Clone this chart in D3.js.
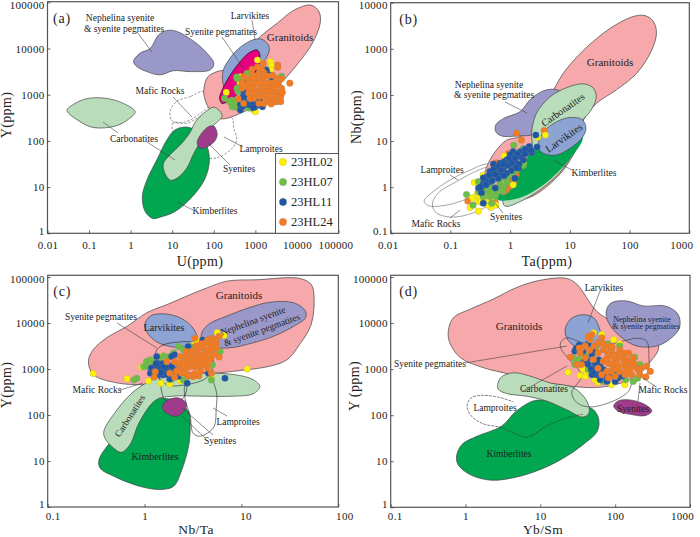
<!DOCTYPE html>
<html>
<head>
<meta charset="utf-8">
<script src="https://cdnjs.cloudflare.com/ajax/libs/d3/7.8.5/d3.min.js"></script>
<style>
  body { margin: 0; background: #fff; }
  text { font-family: "Liberation Serif", "Times New Roman", serif; fill: #222; }
</style>
</head>
<body>
<div id="chart"></div>
<script>
// all values below are log10 of the plotted quantity, [x, y]

// panel a: U vs Y
var aGranitoids = [[1.76,3.10],[1.85,3.38],[2.08,3.50],[2.40,3.57],[2.80,3.97],[3.12,4.26],[3.53,4.55],[3.93,4.83],[4.33,4.94],[4.53,4.80],[4.56,4.55],[4.37,4.11],[4.09,3.75],[3.69,3.32],[3.37,3.03],[3.12,2.81],[2.72,2.63],[2.32,2.49],[2.12,2.49],[1.88,2.71],[1.77,2.96]];
var aNepheline = [[0.07,3.72],[0.23,3.90],[0.47,4.00],[0.67,4.29],[0.87,4.39],[1.11,4.37],[1.48,4.18],[1.76,3.97],[2.00,3.68],[1.92,3.54],[1.44,3.50],[1.03,3.52],[0.71,3.43],[0.39,3.50],[0.15,3.61]];
var aCarbonatitesLeft = [[-1.53,2.66],[-1.34,2.81],[-1.02,2.92],[-0.58,2.92],[-0.17,2.81],[0.11,2.63],[-0.05,2.47],[-0.37,2.32],[-0.90,2.29],[-1.22,2.42]];
var aCarbonatites = [[0.79,1.52],[0.95,1.70],[1.23,1.95],[1.44,2.20],[1.56,2.42],[1.80,2.63],[2.00,2.73],[2.16,2.63],[2.20,2.53],[2.00,2.34],[1.76,2.09],[1.52,1.73],[1.35,1.41],[1.11,1.19],[0.95,1.15],[0.81,1.33]];
var aKimberlites = [[0.28,0.79],[0.39,1.15],[0.63,1.59],[0.87,2.02],[1.07,2.24],[1.35,2.30],[1.60,2.20],[1.84,1.88],[1.89,1.52],[1.77,1.15],[1.48,0.79],[1.07,0.47],[0.71,0.35],[0.53,0.32],[0.35,0.47]];
var aSyenites = [[1.60,1.95],[1.68,2.13],[1.88,2.31],[2.00,2.32],[2.08,2.16],[2.04,2.02],[1.88,1.89],[1.68,1.84]];
var aLarvikites = [[2.22,3.50],[2.36,3.75],[2.60,4.00],[2.92,4.18],[3.16,4.20],[3.33,4.04],[3.30,3.86],[3.04,3.54],[2.72,3.17],[2.40,2.96],[2.24,3.17]];
var aPegmatites = [[2.14,2.92],[2.20,3.10],[2.40,3.43],[2.64,3.72],[2.84,3.90],[3.04,3.97],[3.11,3.86],[3.08,3.64],[2.88,3.32],[2.64,3.07],[2.40,2.89],[2.20,2.81]];
var aMafic = [[1.74,3.07],[1.44,2.96],[1.10,2.85],[0.95,2.63],[0.99,2.44],[1.31,2.41],[1.68,2.60],[2.00,2.89]];
var aLamproites = [[1.01,2.20],[1.01,2.38],[1.35,2.38],[2.00,2.66],[2.44,2.49],[2.48,2.27],[2.55,2.06],[2.48,1.88],[2.16,1.66],[1.88,1.62],[1.35,1.73],[1.03,2.02]];
var aYellow = [[3.05,3.75],[3.37,3.71],[3.39,3.63],[3.37,3.54],[2.30,3.05],[2.63,3.27],[2.80,3.45],[2.96,2.67],[3.00,2.63],[2.91,2.73],[2.64,3.39]];
var aGreen = [[2.56,3.35],[2.68,3.35],[3.63,3.40],[2.26,2.92],[2.44,2.88],[2.44,2.78],[2.52,2.73],[2.64,2.83],[2.58,3.07],[2.84,2.71],[2.92,2.71],[2.80,3.46],[2.48,2.83],[3.17,3.54],[2.56,3.14],[2.45,2.74],[2.50,2.80],[2.58,2.74],[2.66,2.72],[2.55,3.38],[2.38,2.85]];
var aBlue = [[3.27,3.52],[3.33,3.43],[2.64,2.67],[2.80,3.03],[2.72,3.00],[2.92,3.09],[2.88,2.88],[2.76,2.88],[2.64,2.78],[3.00,2.74],[3.17,2.74],[3.25,2.88],[3.37,2.88],[3.09,2.88],[3.41,3.35],[2.72,3.10],[2.84,2.78],[2.96,2.81],[2.70,2.75],[2.78,2.82],[2.90,2.95],[3.02,2.88],[3.10,2.78],[2.95,2.72],[2.68,2.93],[2.80,2.95],[3.17,2.95],[3.00,3.00],[3.25,3.54]];
var aOrange = [[3.19,3.68],[3.54,3.64],[3.54,3.59],[2.92,3.55],[3.09,3.46],[2.92,3.43],[2.72,3.39],[2.84,3.32],[3.00,3.33],[3.17,3.35],[2.68,3.25],[2.84,3.23],[3.00,3.25],[3.13,3.25],[3.29,3.25],[3.41,3.25],[3.51,3.35],[3.63,3.35],[3.83,3.25],[2.68,3.14],[2.84,3.14],[2.96,3.14],[3.13,3.14],[3.25,3.16],[3.37,3.14],[3.51,3.21],[3.63,3.14],[2.84,3.03],[2.96,3.04],[3.09,3.07],[3.25,3.07],[3.37,3.07],[3.49,3.07],[3.57,3.03],[3.21,2.96],[3.09,2.96],[2.96,2.92],[2.87,2.92],[2.59,2.91],[3.37,2.96],[3.49,2.96],[3.61,2.96],[2.72,2.81],[3.09,2.81],[3.21,2.81],[3.33,2.85],[3.51,2.85],[3.61,2.85],[2.75,3.20],[3.06,3.40],[3.20,3.48],[2.95,3.36],[3.45,3.15],[3.30,3.40],[3.42,3.42],[3.15,3.56],[3.05,3.60],[3.65,3.05],[3.45,2.85],[3.38,2.80],[3.25,2.90],[2.90,3.25],[3.55,3.25]];

// panel b: Ta vs Nb
var bGranitoids = [[-0.365,0.52],[-0.225,0.81],[-0.06,1.02],[0.17,1.10],[0.44,1.38],[0.67,1.96],[0.89,2.47],[1.23,2.97],[1.67,3.44],[2.06,3.70],[2.26,3.72],[2.40,3.59],[2.45,3.34],[2.37,2.97],[2.12,2.47],[1.78,2.11],[1.45,1.82],[1.23,1.46],[1.17,1.02],[0.89,0.37],[0.50,-0.10],[0.28,-0.24],[0.00,-0.28],[-0.28,-0.21],[-0.45,0.08]];
var bNepheline = [[-0.24,1.35],[-0.11,1.49],[0.17,1.64],[0.33,1.89],[0.56,2.09],[0.75,2.12],[0.89,2.03],[0.72,1.60],[0.44,1.17],[0.11,1.11],[-0.14,1.11],[-0.24,1.20]];
var bCarbonatites = [[0.36,1.20],[0.44,1.60],[0.67,1.96],[0.95,2.16],[1.23,2.24],[1.40,2.14],[1.44,1.93],[1.34,1.64],[1.17,1.38],[1.11,0.95],[0.89,0.41],[0.61,0.05],[0.22,-0.28],[-0.09,-0.41],[-0.12,-0.21],[0.11,0.30],[0.36,0.81]];
var bKimberlites = [[-0.23,-0.21],[0.00,0.01],[0.19,0.41],[0.39,0.81],[0.67,0.88],[1.00,0.95],[1.21,1.15],[1.21,1.02],[1.03,0.66],[0.81,0.34],[0.56,0.05],[0.28,-0.17],[0.00,-0.28],[-0.20,-0.28]];
var bLarvikites = [[0.47,0.95],[0.56,1.20],[0.78,1.42],[1.00,1.51],[1.20,1.47],[1.27,1.28],[1.20,1.06],[1.00,0.84],[0.78,0.70],[0.58,0.72],[0.49,0.81]];
var bLamproites = [[-1.44,-0.30],[-1.31,-0.12],[-1.00,0.16],[-0.67,0.37],[-0.365,0.50],[-0.17,0.30],[-0.45,-0.06],[-0.78,-0.28],[-1.12,-0.40],[-1.37,-0.40]];
var bMafic = [[-1.30,-0.35],[-1.20,-0.12],[-0.90,0.12],[-0.53,0.37],[-0.28,0.45],[-0.06,0.16],[-0.23,-0.28],[-0.45,-0.46],[-0.78,-0.62],[-1.06,-0.64],[-1.26,-0.53]];
var bOrange = [[0.11,1.17],[0.19,1.02],[0.57,1.23],[-0.71,-0.30],[-0.25,-0.33],[-0.06,-0.06],[-0.11,-0.10],[0.00,0.16],[0.05,0.26],[-0.01,0.01],[-0.23,0.53],[-0.03,0.73],[0.06,0.11],[0.10,0.28],[-0.08,-0.03]];
var bYellow = [[0.59,1.13],[0.46,1.08],[-0.10,0.68],[-0.45,0.26],[-0.60,0.10],[0.05,0.05],[0.22,0.52],[-0.53,-0.52],[-0.67,-0.44],[-0.63,-0.23],[-0.54,-0.30],[-0.32,-0.44],[-0.24,-0.39],[-0.50,-0.21],[-0.42,-0.24],[-0.37,-0.39],[-0.28,-0.21],[-0.39,-0.13],[-0.45,-0.15],[-0.55,-0.15],[-0.50,-0.32],[-0.35,-0.28],[-0.46,-0.05]];
var bGreen = [[0.06,0.91],[0.22,0.84],[0.22,0.47],[-0.53,0.12],[-0.73,-0.16],[-0.03,0.30],[0.05,0.34],[-0.06,0.19],[-0.17,0.08],[-0.11,0.01],[-0.28,-0.06],[-0.23,-0.13],[-0.34,-0.21],[-0.45,-0.21],[-0.62,-0.39],[-0.53,-0.10],[-0.31,-0.35],[0.11,0.37],[-0.38,-0.10],[-0.15,0.20],[-0.05,0.10],[-0.20,-0.02],[-0.30,0.00],[-0.12,-0.08],[0.02,0.26],[-0.25,-0.20],[-0.40,-0.02],[-0.35,0.02],[-0.30,-0.12]];
var bBlue = [[0.43,1.13],[0.45,0.87],[0.32,0.88],[0.28,0.75],[0.17,0.77],[0.05,0.77],[0.00,0.70],[0.17,0.66],[0.05,0.59],[-0.06,0.59],[-0.17,0.52],[-0.28,0.50],[0.00,0.48],[0.11,0.52],[-0.11,0.41],[-0.23,0.37],[-0.06,0.30],[-0.34,0.34],[-0.17,0.26],[-0.31,0.23],[-0.39,0.23],[-0.45,0.08],[-0.34,0.12],[-0.53,-0.02],[-0.48,0.01],[-0.48,-0.12],[-0.25,-0.02],[-0.45,-0.35],[0.08,0.19],[0.14,0.41],[0.36,0.75],[0.22,0.59],[-0.20,0.19],[0.35,0.80],[0.25,0.82],[0.12,0.72],[-0.02,0.62],[-0.10,0.55],[-0.20,0.45],[-0.28,0.38],[-0.35,0.26],[-0.42,0.16],[0.08,0.63],[0.02,0.52],[-0.05,0.47],[-0.15,0.37],[-0.25,0.28],[-0.30,0.14],[-0.40,0.05],[-0.45,0.20],[-0.12,0.50],[0.15,0.50],[0.10,0.42],[0.02,0.36],[-0.10,0.25],[0.25,0.72],[-0.50,0.00]];

// panel c: Nb/Ta vs Y
var cGranitoids = [[-0.58,3.17],[-0.53,3.42],[-0.39,3.68],[-0.18,3.93],[0.02,4.22],[0.23,4.40],[0.43,4.58],[0.64,4.76],[0.85,4.91],[1.16,4.94],[1.60,4.97],[1.72,4.84],[1.75,4.55],[1.72,3.97],[1.60,3.53],[1.47,3.20],[1.29,3.06],[0.92,2.95],[0.64,2.88],[0.37,2.73],[0.02,2.66],[-0.29,2.70],[-0.53,2.88]];
var cNepheline = [[0.59,3.78],[0.66,3.97],[0.85,4.15],[1.09,4.34],[1.29,4.45],[1.54,4.44],[1.66,4.26],[1.66,4.11],[1.54,3.93],[1.33,3.71],[1.12,3.57],[0.88,3.46],[0.68,3.49],[0.59,3.64]];
var cLarvikites = [[0.00,3.93],[0.06,4.15],[0.19,4.20],[0.37,4.11],[0.50,3.89],[0.54,3.64],[0.43,3.49],[0.26,3.49],[0.09,3.64]];
var cCarbonatites = [[-0.42,1.65],[-0.32,2.01],[-0.15,2.44],[0.02,2.70],[0.23,2.88],[0.57,2.91],[0.92,2.88],[1.12,2.77],[1.19,2.62],[1.12,2.46],[0.92,2.41],[0.57,2.41],[0.30,2.41],[0.12,2.33],[-0.05,1.86],[-0.15,1.36],[-0.24,1.19],[-0.34,1.32],[-0.41,1.50]];
var cKimberlites = [[-0.47,1.03],[-0.36,1.39],[-0.17,1.79],[-0.03,2.15],[0.12,2.35],[0.33,2.30],[0.45,2.08],[0.47,1.65],[0.45,1.28],[0.38,0.78],[0.30,0.45],[0.16,0.38],[-0.05,0.45],[-0.32,0.67],[-0.46,0.85]];
var cSyenites = [[0.19,2.23],[0.245,2.33],[0.35,2.37],[0.43,2.26],[0.42,2.12],[0.33,1.97],[0.245,2.02],[0.19,2.12]];
var cPegmatites = [[0.12,3.39],[0.19,3.52],[0.37,3.59],[0.54,3.57],[0.68,3.39],[0.71,3.10],[0.64,2.81],[0.43,2.66],[0.23,2.66],[0.12,2.95]];
var cMafic = [[0.12,3.10],[0.16,2.73],[0.18,2.48],[0.21,2.33],[0.37,2.33],[0.42,2.44],[0.43,2.73],[0.30,3.10]];
var cLamproites = [[0.64,2.91],[0.74,2.52],[0.74,2.15],[0.71,1.72],[0.57,1.54],[0.50,1.61],[0.47,2.00],[0.42,2.33],[0.43,2.73]];
var cYellow = [[0.75,3.79],[0.82,3.73],[0.54,3.63],[0.19,3.28],[0.14,3.25],[-0.03,3.04],[0.04,2.74],[0.17,2.69],[0.26,2.67],[0.37,2.74],[0.69,2.82],[1.06,3.00],[0.50,3.52],[-0.53,2.90],[-0.18,2.79]];
var cGreen = [[0.35,3.49],[0.26,3.27],[0.20,3.28],[0.02,3.16],[-0.01,3.05],[-0.08,2.80],[-0.11,2.76],[0.78,3.38],[0.70,3.09],[0.40,2.76],[0.69,2.76],[0.06,3.20],[0.10,3.12],[0.28,2.78],[0.04,3.05],[0.47,3.49],[0.15,3.22],[0.30,3.35],[0.40,3.42]];
var cBlue = [[0.125,3.27],[0.45,3.49],[0.31,3.31],[0.28,3.27],[0.14,3.12],[0.19,3.12],[0.16,3.02],[0.11,3.05],[0.21,2.98],[0.14,2.87],[0.19,2.87],[0.26,2.78],[0.06,2.91],[0.44,2.69],[0.83,2.80],[0.66,2.91],[0.60,3.63],[0.30,2.98],[0.23,3.02],[0.35,2.84],[0.07,3.02],[0.15,2.95],[0.20,3.05],[0.25,3.08],[0.27,2.95],[0.12,3.12],[0.17,2.92],[0.23,2.88],[0.28,3.05],[0.33,2.95],[0.10,2.95]];
var cOrange = [[0.52,3.67],[0.65,3.63],[0.69,3.67],[0.74,3.56],[0.62,3.56],[0.68,3.52],[0.69,3.41],[0.64,3.41],[0.59,3.45],[0.54,3.41],[0.49,3.38],[0.43,3.38],[0.37,3.27],[0.42,3.27],[0.47,3.27],[0.52,3.27],[0.57,3.31],[0.62,3.31],[0.68,3.23],[0.45,3.20],[0.40,3.16],[0.35,3.12],[0.31,3.16],[0.50,3.16],[0.56,3.16],[0.61,3.16],[0.66,3.16],[0.37,3.02],[0.42,3.02],[0.47,3.05],[0.52,3.05],[0.57,3.05],[0.62,3.09],[0.23,3.16],[0.26,2.91],[0.38,2.91],[0.43,2.91],[0.31,2.82],[0.50,2.83],[0.56,2.85],[0.11,2.94],[0.10,2.82],[0.69,2.91],[0.74,3.45],[0.77,3.71],[0.77,3.26],[0.45,3.10],[0.55,3.25],[0.62,3.22],[0.48,3.38],[0.53,3.50],[0.60,3.50],[0.40,3.08],[0.65,3.30],[0.72,3.32],[0.33,2.95],[0.45,2.85],[0.58,2.95],[0.65,3.02],[0.52,2.90],[0.58,3.55],[0.72,3.62]];

// panel d: Yb/Sm vs Y
var dGranitoids = [[-0.23,3.83],[-0.16,4.12],[0.06,4.30],[0.37,4.52],[0.68,4.77],[1.00,4.93],[1.35,4.97],[1.49,4.84],[1.62,4.55],[1.75,4.26],[1.98,4.01],[2.29,3.72],[2.58,3.50],[2.44,3.10],[2.24,2.81],[2.02,2.67],[1.75,2.60],[1.40,2.63],[0.95,2.74],[0.59,2.89],[0.24,3.03],[-0.07,3.25],[-0.21,3.57]];
var dNepheline = [[1.88,4.26],[1.95,4.44],[2.15,4.48],[2.38,4.37],[2.67,4.37],[2.84,4.19],[2.86,3.90],[2.73,3.65],[2.55,3.50],[2.29,3.50],[2.06,3.72],[1.91,4.01]];
var dLarvikites = [[1.33,3.83],[1.40,4.08],[1.55,4.18],[1.71,4.12],[1.80,3.83],[1.82,3.54],[1.57,3.47],[1.40,3.57]];
var dCarbonatites = [[0.43,2.67],[0.48,2.83],[0.64,2.92],[0.86,2.85],[1.13,2.70],[1.44,2.60],[1.62,2.31],[1.65,2.05],[1.57,1.96],[1.35,2.12],[1.08,2.31],[0.82,2.41],[0.55,2.47],[0.44,2.56]];
var dKimberlites = [[-0.12,1.11],[-0.05,1.36],[0.15,1.54],[0.48,1.76],[0.68,2.09],[0.93,2.32],[1.22,2.27],[1.57,2.20],[1.71,2.12],[1.78,1.91],[1.76,1.65],[1.57,1.36],[1.31,1.07],[1.00,0.82],[0.64,0.64],[0.33,0.59],[0.06,0.71],[-0.10,0.93]];
var dSyenites = [[1.98,2.20],[2.04,2.31],[2.20,2.33],[2.40,2.23],[2.49,2.09],[2.40,1.99],[2.20,2.02],[2.04,2.09]];
var dLamproites = [[1.57,2.02],[1.35,1.94],[1.08,1.76],[0.82,1.52],[0.64,1.62],[0.46,1.74],[0.24,1.81],[0.08,1.98],[0.02,2.20],[0.08,2.38],[0.24,2.43],[0.44,2.39],[0.64,2.29]];
var dPegmatites = [[1.27,3.57],[1.35,3.68],[1.57,3.57],[1.84,3.52],[2.11,3.61],[2.29,3.67],[2.42,3.61],[2.45,3.32],[2.42,2.89],[2.24,2.74],[2.18,2.52],[1.98,2.31],[1.66,2.18],[1.49,2.27],[1.42,2.49],[1.55,2.85],[1.40,3.18],[1.28,3.43]];
var dYellow = [[1.71,3.79],[1.82,3.75],[1.98,3.64],[2.06,3.55],[1.37,2.93],[1.53,2.86],[1.60,2.84],[1.62,2.95],[1.64,3.02],[1.73,2.77],[1.77,2.71],[1.95,2.66],[2.13,2.66],[1.57,3.00]];
var dGreen = [[1.55,3.35],[1.51,3.21],[2.24,2.73],[2.14,2.77],[2.26,3.26],[2.06,3.50],[1.64,2.99],[1.84,2.73],[1.73,3.44],[1.44,3.24],[2.33,3.10],[1.60,3.30],[1.46,3.10],[1.90,3.55],[2.00,2.78],[2.30,2.80],[1.75,3.50]];
var dBlue = [[1.46,3.39],[1.57,3.39],[1.64,3.10],[1.71,2.99],[1.75,2.88],[1.80,2.77],[1.69,3.31],[1.84,2.99],[1.93,2.88],[2.04,2.81],[2.00,2.73],[1.73,3.13],[1.64,3.55],[1.95,3.46],[1.80,3.10],[1.69,2.88],[1.89,2.73],[1.68,3.00],[1.75,3.10],[1.72,2.93],[1.78,2.95],[1.62,3.20],[1.58,3.15],[1.88,2.85],[1.80,2.88],[1.98,2.90],[1.78,3.20],[1.70,3.40],[2.10,2.85],[1.52,3.52],[1.48,3.45]];
var dOrange = [[1.40,3.26],[1.55,3.46],[1.66,3.64],[1.82,3.68],[1.77,3.57],[1.84,3.55],[1.52,3.46],[1.66,3.41],[1.60,3.24],[1.55,3.10],[1.49,3.10],[1.71,3.21],[1.77,3.35],[1.84,3.42],[1.91,3.50],[1.95,3.39],[2.06,3.42],[2.11,3.35],[2.02,3.31],[1.93,3.28],[1.84,3.17],[1.77,3.02],[1.91,3.13],[2.00,3.21],[2.09,3.24],[2.15,3.21],[2.24,3.24],[2.20,3.02],[2.29,3.02],[2.13,3.06],[2.04,3.06],[1.95,3.10],[1.89,2.95],[1.95,2.95],[2.06,2.95],[2.00,2.84],[1.91,2.81],[1.82,2.88],[2.13,2.88],[2.22,2.88],[2.31,2.99],[2.33,2.88],[2.42,3.06],[2.47,2.95],[2.41,2.83],[1.69,3.75],[1.64,3.71],[1.53,3.35],[1.90,3.35],[1.72,3.50],[2.02,3.12],[1.88,3.22],[2.12,3.14],[2.00,3.00],[2.25,3.12],[2.20,3.15],[2.06,3.30],[1.60,3.50],[2.35,3.02],[2.15,2.95],[1.96,3.48],[2.18,3.35]];

var xTicksA = [0.01, 0.1, 1, 10, 100, 1000, 10000, 100000];
var xTicksB = [0.01, 0.1, 1, 10, 100, 1000];
var xTicksC = [0.1, 1, 10, 100];
var xTicksD = [0.1, 1, 10, 100, 1000];
var yTicksFive = [1, 10, 100, 1000, 10000, 100000];
var yTicksB = [0.1, 1, 10, 100, 1000, 10000];
var legendNames = ["23HL02", "23HL07", "23HL11", "23HL24"];

var GRAN = "#f6a8ab", NEPH = "#9a98c9", CARB = "#b9ddba", KIMB = "#00a650",
  LARV = "#8da3d3", PEG = "#e6007e", SYEN = "#a03b8c";
var YEL = "#fff200", GRE = "#6cbe45", BLU = "#1d56a5", ORA = "#f47b20";
var legendColors = [YEL, GRE, BLU, ORA];

var svg = d3.select("#chart").append("svg").attr("width", 700).attr("height", 537);
svg.append("rect").attr("width", 700).attr("height", 537).attr("fill", "#fff");

var dashed = "2.5,1.5";

var panels = [
  {
    name: "(a)", box: [47.5, 2.3, 338.5, 233.3], frameTop: 1.7, letterX: 5.5, tickY: 8,
    xDom: [0.01, 100000], yDom: [1, 100000], xTicks: xTicksA, yTicks: yTicksFive,
    nudgeX: { 100000: -3 }, nudgeY: { 1: -2.5, 100000: 3 },
    shapes: [
      { d: aMafic, dash: dashed }, { d: aLamproites, dash: dashed },
      { d: aGranitoids, fill: GRAN }, { d: aNepheline, fill: NEPH },
      { d: aCarbonatitesLeft, fill: CARB }, { d: aKimberlites, fill: KIMB },
      { d: aCarbonatites, fill: CARB }, { d: aSyenites, fill: SYEN },
      { d: aLarvikites, fill: LARV }, { d: aPegmatites, fill: PEG, stroke: "#111" }
    ],
    dots: [[aYellow, YEL], [aGreen, GRE], [aBlue, BLU], [aOrange, ORA]]
  },
  {
    name: "(b)", box: [390.7, 2.7, 689.3, 233.3], letterX: 8.5, tickY: 8,
    xDom: [0.01, 1000], yDom: [0.1, 10000], xTicks: xTicksB, yTicks: yTicksB,
    nudgeX: { 0.01: -3, 1000: -8 }, nudgeY: { 0.1: -2.5, 10000: 2 },
    shapes: [
      { d: bLamproites, stroke: "#666" }, { d: bMafic, stroke: "#666" },
      { d: bGranitoids, fill: GRAN }, { d: bNepheline, fill: NEPH },
      { d: bCarbonatites, fill: CARB }, { d: bKimberlites, fill: KIMB, stroke: "none" },
      { d: bLarvikites, fill: LARV }
    ],
    dots: [[bOrange, ORA], [bYellow, YEL], [bGreen, GRE], [bBlue, BLU]]
  },
  {
    name: "(c)", box: [47.7, 277, 338.3, 507], frameTop: 275.3, letterX: 5.5, tickY: 4.8,
    xDom: [0.1, 100], yDom: [1, 100000], xTicks: xTicksC, yTicks: yTicksFive,
    nudgeX: { 0.1: 5, 10: 4, 100: 6 }, nudgeY: { 1: -3, 100000: 2 },
    shapes: [
      { d: cGranitoids, fill: GRAN }, { d: cNepheline, fill: NEPH },
      { d: cLarvikites, fill: LARV }, { d: cKimberlites, fill: KIMB },
      { d: cCarbonatites, fill: CARB },
      { d: cLamproites, stroke: "#222" }, { d: cMafic, stroke: "#222" },
      { d: cSyenites, fill: SYEN },
      { d: cPegmatites, stroke: "#222" }
    ],
    dots: [[cYellow, YEL], [cGreen, GRE], [cBlue, BLU], [cOrange, ORA]]
  },
  {
    name: "(d)", box: [390.7, 277, 690, 507.3], frameTop: 275.3, letterX: 8.5, tickY: 4.5,
    xDom: [0.1, 1000], yDom: [1, 100000], xTicks: xTicksD, yTicks: yTicksFive,
    nudgeX: { 0.1: 4, 1000: -8 }, nudgeY: { 1: -3, 100000: 2 },
    shapes: [
      { d: dGranitoids, fill: GRAN }, { d: dNepheline, fill: NEPH },
      { d: dLarvikites, fill: LARV }, { d: dKimberlites, fill: KIMB },
      { d: dCarbonatites, fill: CARB }, { d: dSyenites, fill: SYEN },
      { d: dLamproites, stroke: "#333", open: true, dash: "3,1" },
      { d: dPegmatites, stroke: "#333" }
    ],
    dots: [[dYellow, YEL], [dGreen, GRE], [dBlue, BLU], [dOrange, ORA]]
  }
];

panels.forEach(function (p) {
  var x = d3.scaleLog().domain(p.xDom).range([p.box[0], p.box[2]]);
  var y = d3.scaleLog().domain(p.yDom).range([p.box[3], p.box[1]]);
  var g = svg.append("g");

  var closed = d3.line()
    .x(function (d) { return x(Math.pow(10, d[0])); })
    .y(function (d) { return y(Math.pow(10, d[1])); })
    .curve(d3.curveCatmullRomClosed.alpha(0.5));
  var open = d3.line()
    .x(function (d) { return x(Math.pow(10, d[0])); })
    .y(function (d) { return y(Math.pow(10, d[1])); })
    .curve(d3.curveCatmullRom.alpha(0.5));

  p.shapes.forEach(function (s) {
    g.append("path")
      .attr("d", (s.open ? open : closed)(s.d))
      .attr("fill", s.fill || "none")
      .attr("stroke", s.stroke || (s.fill ? "#444" : "#555"))
      .attr("stroke-width", s.fill ? 0.7 : 0.6)
      .attr("stroke-dasharray", s.dash || null);
  });

  p.dots.forEach(function (set) {
    g.append("g").selectAll("circle")
      .data(set[0])
      .enter()
      .append("circle")
      .attr("cx", function (d) { return x(Math.pow(10, d[0])); })
      .attr("cy", function (d) { return y(Math.pow(10, d[1])); })
      .attr("r", 3.3)
      .attr("fill", set[1])
      .attr("stroke", "#888")
      .attr("stroke-width", 0.25);
  });

  var top = p.frameTop || p.box[1];
  svg.append("rect")
    .attr("x", p.box[0]).attr("y", top)
    .attr("width", p.box[2] - p.box[0]).attr("height", p.box[3] - top)
    .attr("fill", "none").attr("stroke", "#555").attr("stroke-width", 1.2);

  var fmt = function (d) { return String(d); };
  var xAxis = svg.append("g")
    .attr("transform", "translate(0," + p.box[3] + ")")
    .call(d3.axisBottom(x).tickValues(p.xTicks).tickFormat(fmt).tickSize(-3).tickSizeOuter(0));
  var yAxis = svg.append("g")
    .attr("transform", "translate(" + p.box[0] + ",0)")
    .call(d3.axisLeft(y).tickValues(p.yTicks).tickFormat(fmt).tickSize(-3).tickSizeOuter(0));
  [xAxis, yAxis].forEach(function (a) {
    a.select(".domain").remove();
    a.selectAll("line").attr("stroke", "#444").attr("stroke-width", 0.8);
    a.selectAll("text").attr("font-size", 11).attr("letter-spacing", 0.3)
      .style("font-family", '"Liberation Serif", serif').attr("fill", "#222");
  });
  xAxis.selectAll("text").attr("y", p.tickY)
    .attr("dx", function (d) { return p.nudgeX[d] || 0; });
  yAxis.selectAll("text").attr("x", -3)
    .attr("dy", function (d) { return 3.5 + (p.nudgeY[d] || 0); });

  svg.append("text").attr("x", p.box[0] + p.letterX)
    .attr("y", top + 21).attr("font-size", 14).attr("letter-spacing", 0.8).text(p.name);
});

// region labels and their leader lines, in page pixels
function label(txt, cx, cy, size, rot) {
  var t = svg.append("text")
    .attr("text-anchor", "middle")
    .attr("font-size", size || 9.5)
    .attr("fill", "#333")
    .attr("transform", "translate(" + cx + "," + cy + ")" + (rot ? " rotate(" + rot + ")" : ""))
    .attr("dy", "0.32em")
    .text(txt);
  return t;
}
function leader(x1, y1, x2, y2) {
  svg.append("line").attr("x1", x1).attr("y1", y1).attr("x2", x2).attr("y2", y2)
    .attr("stroke", "#444").attr("stroke-width", 0.6);
}

// a
label("Nephelina syenite", 120, 18);
label("& syenite pegmatites", 124, 28.5);
leader(137, 32, 152, 52);
label("Larvikites", 250, 16);
leader(252, 20, 255, 40);
label("Syenite pegmatites", 221, 32);
leader(222, 37, 243, 68);
label("Granitoids", 290, 37, 11);
label("Mafic  Rocks", 160, 91);
leader(173, 97, 192, 117);
label("Carbonatites", 134, 139);
leader(103, 122, 118, 133);
leader(147, 142, 175, 160);
label("Lamproites", 261, 149);
leader(224, 137, 243, 147);
label("Syenites", 239, 169);
leader(208, 143, 230, 165);
label("Kimberlites", 215, 211);
leader(177, 202, 193, 210);

// b
label("Nephelina syenite", 489, 85);
label("& syenite pegmatites", 494, 95);
leader(505, 102, 527, 113);
label("Granitoids", 610, 62, 11);
label("Carbonatites", 563, 110, 10, -35);
label("Larvikites", 564, 138, 10.5, -35);
label("Kimberlites", 594, 173);
leader(553, 160, 572, 170);
label("Lamproites", 442, 170);
leader(450, 175, 458, 180);
label("Mafic  Rocks", 436, 224);
leader(450, 218, 460, 210);
label("Syenites", 506, 217);
leader(495, 203, 503, 213);

// c
label("Granitoids", 239, 295, 11);
label("Syenite pegmatites", 101, 317);
leader(117, 323, 157, 348);
label("Larvikites", 164, 328, 10);
label("Nephelina syenite", 253, 321, 9.5, -20);
label("& syenite pegmatites", 262, 330, 9.5, -20);
label("Mafic  Rocks", 97, 390);
leader(120, 390, 143, 383);
label("Carbonatites", 130, 416, 9.5, -57);
label("Lamproites", 238, 422);
leader(213, 408, 227, 416);
label("Syenites", 220, 441);
leader(182, 408, 213, 435);
leader(182, 416, 205, 438);
label("Kimberlites", 155, 457, 10);

// d
label("Larvikites", 604, 288);
leader(600, 291, 588, 323);
label("Granitoids", 519, 326, 11);
label("Nephelina syenite", 642, 319, 8);
label("& syenite pegmatites", 646, 326.5, 8);
label("Syenite pegmatites", 430, 364);
leader(465, 363, 567, 346);
label("Mafic  Rocks", 663, 390);
leader(655, 386, 643, 378);
label("Carbonatites", 544, 389);
leader(523, 391, 567, 366);
label("Lamproites", 495, 408);
label("Syenites", 633, 409);
leader(638, 401, 640, 383);
label("Kimberlites", 509, 454);

// axis titles
function axisTitle(txt, cx, cy, rot, size) {
  svg.append("text").attr("text-anchor", "middle").attr("font-size", size || 14)
    .attr("letter-spacing", 0.4)
    .attr("transform", "translate(" + cx + "," + cy + ")" + (rot ? " rotate(-90)" : ""))
    .attr("dy", "0.32em").text(txt);
}
axisTitle("U(ppm)", 200, 262);
axisTitle("Y(ppm)", 7, 115, true);
axisTitle("Ta(ppm)", 547, 262);
axisTitle("Nb(ppm)", 357, 117, true);
axisTitle("Nb/Ta", 196, 530, false, 13.5);
axisTitle("Y(ppm)", 7, 385, true);
axisTitle("Yb/Sm", 543, 530, false, 13.5);
axisTitle("Y (ppm)", 355, 386, true);

// legend, sits in the corner of panel a
var legend = svg.append("g");
legend.append("rect").attr("x", 275.5).attr("y", 153.5).attr("width", 63).attr("height", 79.8)
  .attr("fill", "#fff").attr("stroke", "#555").attr("stroke-width", 1);
var legendY = d3.scalePoint().domain(legendNames).range([162, 222]);
legendNames.forEach(function (n, i) {
  legend.append("circle").attr("cx", 283).attr("cy", legendY(n)).attr("r", 3.7)
    .attr("fill", legendColors[i]).attr("stroke", "#888").attr("stroke-width", 0.25);
  legend.append("text").attr("x", 291).attr("y", legendY(n)).attr("dy", "0.33em")
    .attr("font-size", 12.5).text(n);
});
</script>
</body>
</html>
